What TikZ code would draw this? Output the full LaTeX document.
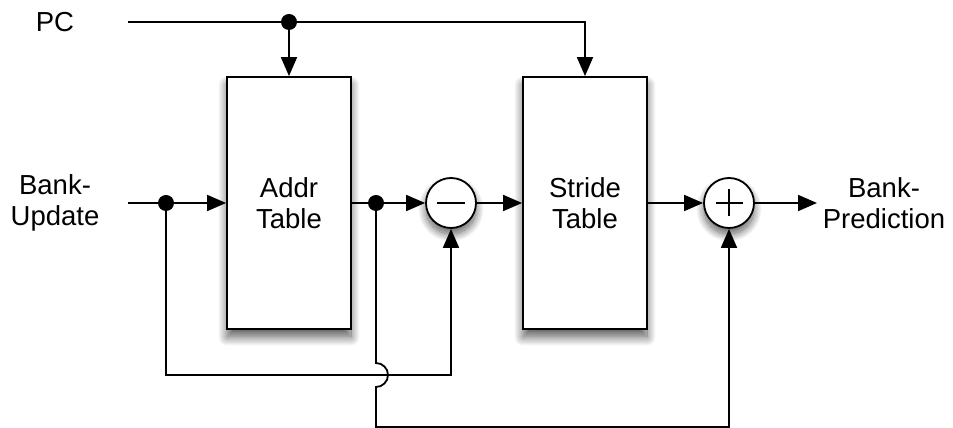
\documentclass[tikz,border=0pt]{standalone}
\usepackage{fontspec}
\setmainfont{Liberation Sans}
\usetikzlibrary{arrows.meta, shadows.blur}
\definecolor{bpdark}{HTML}{000000}
\tikzset{
  tbl/.style={rectangle, draw=bpdark, line width=1.8pt, fill=white, minimum width=124pt,
    minimum height=252pt, align=center, font=\fontsize{27.5}{31}\selectfont,
    blur shadow={shadow xshift=0pt, shadow yshift=-8pt, shadow blur radius=9pt, shadow blur steps=20, shadow opacity=65}},
  op/.style={circle, draw=bpdark, line width=1.8pt, fill=white, minimum size=50pt, inner sep=0pt,
    blur shadow={shadow xshift=0pt, shadow yshift=-6pt, shadow blur radius=8pt, shadow blur steps=20, shadow opacity=65}},
  minus/.style={op, path picture={\draw[line width=1.6pt] ([xshift=-14pt]path picture bounding box.center) -- ([xshift=14pt]path picture bounding box.center);}},
  plus/.style={op, path picture={\draw[line width=1.6pt] ([xshift=-13.5pt]path picture bounding box.center) -- ([xshift=13.5pt]path picture bounding box.center)
    ([yshift=-13.5pt]path picture bounding box.center) -- ([yshift=13.5pt]path picture bounding box.center);}},
  lbl/.style={align=center, font=\fontsize{27.5}{31}\selectfont},
  dot/.style={circle, fill=bpdark, inner sep=0pt, minimum size=16pt},
  arr/.style={-{Triangle[length=19pt, width=16pt]}, line width=1.8pt, bpdark},
}
\begin{document}
\begin{tikzpicture}[x=1pt, y=1pt]
  \useasboundingbox (0,0) rectangle (953,428);
  \node[lbl] (pc) at (55,406) {PC};
  \node[lbl] (upd) at (55,225) {Bank-\\Update};
  \node[tbl] (addr) at (289,225) {Addr\\Table};
  \node[tbl] (stride) at (585,225) {Stride\\Table};
  \node[minus] (sub) at (451,225) {};
  \node[plus] (add) at (729,225) {};
  \node[lbl] (pred) at (884,225) {Bank-\\Prediction};
  \coordinate (pcin) at (128,406);
  \coordinate (updin) at (128,225);
  \coordinate (out) at (817,225);
  % wires
  \draw[arr] (pcin) -| (stride.north);
  \draw[arr] (289,406) coordinate (pcsplit) -- (addr.north);
  \draw[arr] (updin) -- (addr.west);
  \draw[arr] (addr.east) -- (sub.west);
  \draw[arr] (sub) -- (stride);
  \draw[arr] (stride) -- (add);
  \draw[arr] (add) -- (out);
  \node[dot] (pcdot) at (pcsplit) {};
  \node[dot] (updot) at (166,225) {};
  \node[dot] (addot) at (376,225) {};
  % feedback paths
  \draw[arr] (updot.center) -- ++(0,-172) -| (sub.south);
  \draw[arr] (addot.center) -- ++(0,-160) arc[start angle=90, end angle=-90, radius=12] -- ++(0,-40) -| (add.south);
\end{tikzpicture}
\end{document}
